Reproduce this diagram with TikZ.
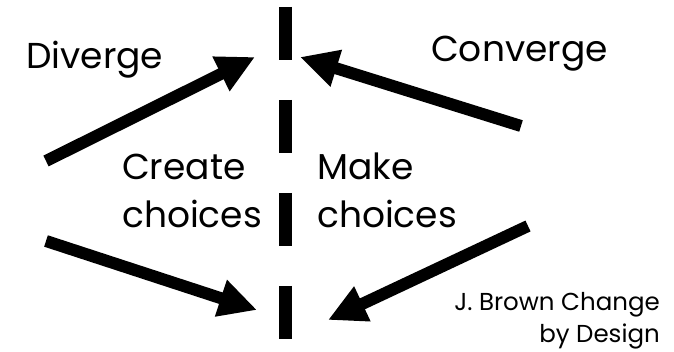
\documentclass[tikz,border=0pt]{standalone}
\usepackage{fontspec}
\setmainfont{Poppins}
\usetikzlibrary{arrows.meta}

\tikzset{
  bigarrow/.style={line width=12pt, draw=black,
    -{Triangle[length=38pt,width=36pt]}},
  divider/.style={line width=13pt, draw=black, dash pattern=on 53pt off 40pt},
  label/.style={inner sep=0pt, font=\fontsize{36}{48}\selectfont, align=left},
  credit/.style={inner sep=0pt, font=\fontsize{24.5}{32}\selectfont, align=right}
}

\begin{document}
\begin{tikzpicture}[x=1pt, y=-1pt]
  \useasboundingbox (0,0) rectangle (674,352);

  % dashed divider
  \coordinate (dtop) at (285,7);
  \coordinate (dbot) at (285,342);
  \draw[divider] (dtop) -- (dbot);

  % arrow end points
  \coordinate (dvTail) at (46,161);
  \coordinate (dvTip)  at (255,57);
  \coordinate (cvTail) at (521,126);
  \coordinate (cvTip)  at (300,57);
  \coordinate (ccTail) at (46,241);
  \coordinate (ccTip)  at (257,310);
  \coordinate (mcTail) at (528,226);
  \coordinate (mcTip)  at (328,320);

  \draw[bigarrow] (dvTail) -- (dvTip);
  \draw[bigarrow] (cvTail) -- (cvTip);
  \draw[bigarrow] (ccTail) -- (ccTip);
  \draw[bigarrow] (mcTail) -- (mcTip);

  % labels (base anchor sits on the last line of a multi-line node)
  \node[label, anchor=base west] (diverge)  at (26,69)  {Diverge};
  \node[label, anchor=base west] (converge) at (431,62) {Converge};
  \node[label, anchor=base west] (create)   at (122,228) {Create\\choices};
  \node[label, anchor=base west] (make)     at (317,228) {Make\\choices};
  \node[credit, anchor=base east] (src)     at (660,342) {J. Brown Change\\by Design};
\end{tikzpicture}
\end{document}
